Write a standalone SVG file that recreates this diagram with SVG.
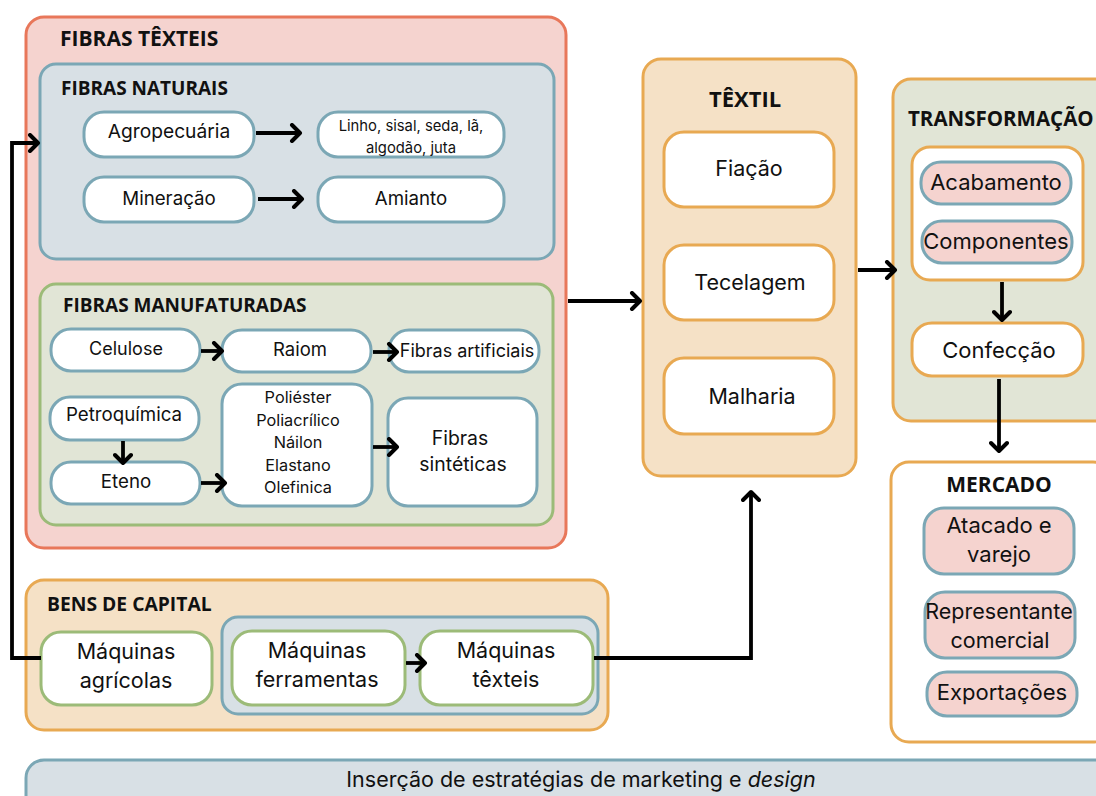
<svg xmlns="http://www.w3.org/2000/svg" width="1096" height="796" viewBox="0 0 1096 796">
<defs>
<marker id="ah" markerUnits="userSpaceOnUse" markerWidth="20" markerHeight="20" refX="14" refY="10" orient="auto">
<path d="M6,2 L14,10 L6,18" fill="none" stroke="#000" stroke-width="4" stroke-linecap="round" stroke-linejoin="round"/>
</marker>
<style>
.title{font-family:"Open Sans","Liberation Sans",sans-serif;font-weight:700;font-size:19px;fill:#111}
.t{font-family:Inter,"Liberation Sans",sans-serif;font-size:18.7px;fill:#111;text-anchor:middle}
.ts{font-family:Inter,"Liberation Sans",sans-serif;font-size:14.8px;fill:#111;text-anchor:middle}
.tm{font-family:Inter,"Liberation Sans",sans-serif;font-size:21.5px;fill:#111;text-anchor:middle}
.tl{font-family:Inter,"Liberation Sans",sans-serif;font-size:22px;fill:#111;text-anchor:middle}
.nb{fill:#fff;stroke:#7BA7B5;stroke-width:3}
.ng{fill:#fff;stroke:#9CBB78;stroke-width:3}
.no{fill:#fff;stroke:#E8A952;stroke-width:3}
.np{fill:#F5D3CF;stroke:#7BA7B5;stroke-width:3}
.conn{fill:none;stroke:#000;stroke-width:3.8;marker-end:url(#ah)}
</style>
</defs>
<rect width="1096" height="796" fill="#fff"/>

<g id="fibras-texteis">
<rect x="26" y="17" width="540" height="531" rx="18" fill="#F5D3CF" stroke="#E8775A" stroke-width="3"/>
<text class="title" x="60" y="46" style="font-size:21px">FIBRAS TÊXTEIS</text>
</g>

<g id="fibras-naturais">
<rect x="40" y="64" width="514" height="195" rx="16" fill="#D8E0E5" stroke="#7BA7B5" stroke-width="3"/>
<text class="title" x="61" y="95">FIBRAS NATURAIS</text>
</g>
<g id="agropecuaria"><rect class="nb" x="84" y="112" width="170" height="45" rx="20"/><text class="t" x="169" y="138" style="font-size:19.2px">Agropecuária</text></g>
<g id="linho"><rect class="nb" x="318" y="112" width="186" height="45" rx="20"/><text class="ts" x="411" y="131">Linho, sisal, seda, lã,</text><text class="ts" x="411" y="153">algodão, juta</text></g>
<g id="mineracao"><rect class="nb" x="84" y="177" width="170" height="45" rx="20"/><text class="t" x="169" y="205">Mineração</text></g>
<g id="amianto"><rect class="nb" x="318" y="177" width="186" height="45" rx="20"/><text class="t" x="411" y="205">Amianto</text></g>

<g id="fibras-manufaturadas">
<rect x="40" y="284" width="513" height="241" rx="16" fill="#E1E5D6" stroke="#9CBB78" stroke-width="3"/>
<text class="title" x="63" y="312">FIBRAS MANUFATURADAS</text>
</g>
<g id="celulose"><rect class="nb" x="51" y="329" width="149" height="42" rx="20"/><text class="t" x="126" y="355" style="font-size:18px">Celulose</text></g>
<g id="raiom"><rect class="nb" x="222" y="330" width="149" height="42" rx="20"/><text class="t" x="300" y="356" style="font-size:18.5px">Raiom</text></g>
<g id="fibras-artificiais"><rect class="nb" x="389" y="330" width="150" height="42" rx="20"/><text class="ts" x="467" y="357" style="font-size:18px">Fibras artificiais</text></g>
<g id="petroquimica"><rect class="nb" x="50" y="397" width="149" height="43" rx="20"/><text class="t" x="124" y="421">Petroquímica</text></g>
<g id="eteno"><rect class="nb" x="51" y="462" width="149" height="42" rx="20"/><text class="t" x="126" y="488">Eteno</text></g>
<g id="poliester"><rect class="nb" x="222" y="384" width="150" height="122" rx="20"/>
<text class="ts" x="298" y="403" style="font-size:16.3px">Poliéster</text>
<text class="ts" x="298" y="426" style="font-size:16.3px">Poliacrílico</text>
<text class="ts" x="298" y="448" style="font-size:16.3px">Náilon</text>
<text class="ts" x="298" y="471" style="font-size:16.3px">Elastano</text>
<text class="ts" x="298" y="493" style="font-size:16.3px">Olefinica</text></g>
<g id="fibras-sinteticas"><rect class="nb" x="388" y="398" width="149" height="108" rx="20"/><text class="t" x="460" y="445" style="font-size:19.4px">Fibras</text><text class="t" x="463" y="471" style="font-size:19.4px">sintéticas</text></g>

<g id="textil">
<rect x="643" y="59" width="213" height="417" rx="18" fill="#F5E1C6" stroke="#E8A952" stroke-width="3"/>
<text class="title" x="745" y="107" text-anchor="middle" style="font-size:22px">TÊXTIL</text>
</g>
<g id="fiacao"><rect class="no" x="664" y="132" width="170" height="75" rx="20"/><text class="tm" x="749" y="176">Fiação</text></g>
<g id="tecelagem"><rect class="no" x="664" y="245" width="170" height="75" rx="20"/><text class="tm" x="750" y="290">Tecelagem</text></g>
<g id="malharia"><rect class="no" x="664" y="358" width="170" height="76" rx="20"/><text class="tm" x="752" y="404">Malharia</text></g>

<g id="transformacao">
<rect x="893" y="79" width="220" height="342" rx="18" fill="#E1E5D6" stroke="#E8A952" stroke-width="3"/>
<text class="title" x="908" y="126" style="font-size:20.5px">TRANSFORMAÇÃO</text>
<rect class="no" x="912" y="147" width="171" height="133" rx="18"/>
</g>
<g id="acabamento"><rect class="np" x="921" y="162" width="150" height="42" rx="20"/><text class="tl" x="996" y="190">Acabamento</text></g>
<g id="componentes"><rect class="np" x="922" y="221" width="150" height="42" rx="20"/><text class="tl" x="996" y="249">Componentes</text></g>
<g id="confeccao"><rect class="no" x="912" y="323" width="171" height="53" rx="20"/><text class="tl" x="999" y="358">Confecção</text></g>

<g id="mercado">
<rect x="891" y="462" width="220" height="280" rx="18" fill="#fff" stroke="#E8A952" stroke-width="3"/>
<text class="title" x="999" y="492" text-anchor="middle" style="font-size:21px">MERCADO</text>
</g>
<g id="atacado"><rect class="np" x="924" y="508" width="150" height="66" rx="20"/><text class="tl" x="999" y="533">Atacado e</text><text class="tl" x="999" y="562">varejo</text></g>
<g id="representante"><rect class="np" x="925" y="592" width="150" height="66" rx="20"/><text class="tm" x="999" y="619">Representante</text><text class="tm" x="1000" y="648">comercial</text></g>
<g id="exportacoes"><rect class="np" x="927" y="672" width="150" height="44" rx="20"/><text class="tl" x="1002" y="700">Exportações</text></g>

<g id="bens-de-capital">
<rect x="26" y="580" width="582" height="150" rx="18" fill="#F5E1C6" stroke="#E8A952" stroke-width="3"/>
<text class="title" x="47" y="611" style="font-size:19.3px">BENS DE CAPITAL</text>
<rect x="222" y="617" width="376" height="97" rx="16" fill="#D8E0E5" stroke="#7BA7B5" stroke-width="3"/>
</g>
<g id="maquinas-agricolas"><rect class="ng" x="41" y="632" width="171" height="73" rx="20"/><text class="tm" x="126" y="659">Máquinas</text><text class="tm" x="126" y="688">agrícolas</text></g>
<g id="maquinas-ferramentas"><rect class="ng" x="232" y="631" width="173" height="74" rx="20"/><text class="tm" x="317" y="658">Máquinas</text><text class="tm" x="317" y="687">ferramentas</text></g>
<g id="maquinas-texteis"><rect class="ng" x="420" y="631" width="173" height="74" rx="20"/><text class="tm" x="506" y="658">Máquinas</text><text class="tm" x="506" y="687">têxteis</text></g>

<g id="marketing">
<rect x="26" y="760" width="1090" height="60" rx="18" fill="#D8E0E5" stroke="#7BA7B5" stroke-width="3"/>
<text class="tm" x="581" y="787">Inserção de estratégias de marketing e <tspan font-style="italic">design</tspan></text>
</g>

<g id="connectors">
<path class="conn" d="M256,133 H300"/>
<path class="conn" d="M258,199 H302"/>
<path class="conn" d="M201,351 H222"/>
<path class="conn" d="M373,352 H397"/>
<path class="conn" d="M123,441 V463"/>
<path class="conn" d="M201,483 H225"/>
<path class="conn" d="M373,447 H397"/>
<path class="conn" d="M568,301 H640"/>
<path class="conn" d="M858,270 H895"/>
<path class="conn" d="M1002,282 V320"/>
<path class="conn" d="M999,379 V451"/>
<path class="conn" d="M406,663 H425"/>
<path class="conn" d="M594,658 H751 V492"/>
<path class="conn" d="M41,658 H12 V143 H38"/>
</g>
</svg>
